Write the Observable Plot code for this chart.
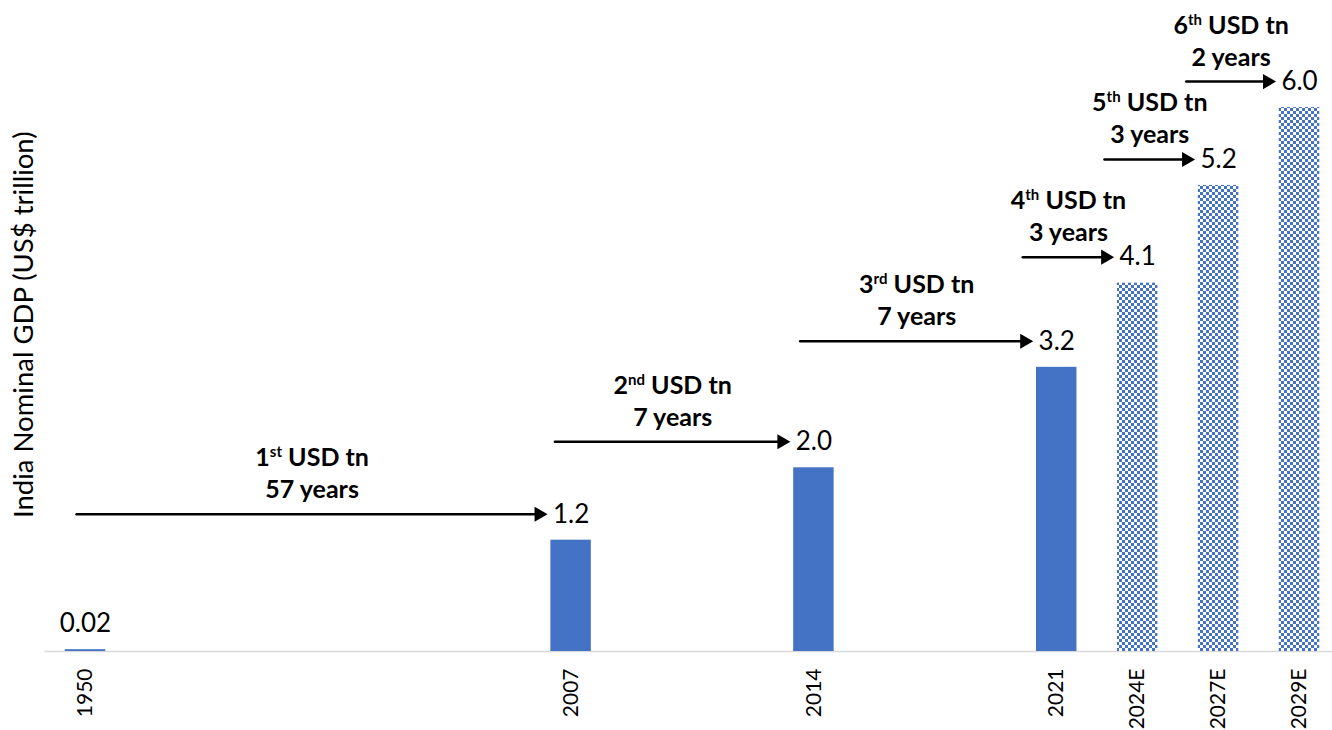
<!DOCTYPE html>
<html>
<head>
<meta charset="utf-8">
<script src="https://cdn.jsdelivr.net/npm/d3@7"></script>
<script src="https://cdn.jsdelivr.net/npm/@observablehq/plot@0.6"></script>
<style>
  html, body { margin: 0; padding: 0; background: #fff; }
  #chart svg { display: block; }
</style>
</head>
<body>
<div id="chart"></div>
<script>
// ---- data ----
const categories  = ["1950", "2007", "2014", "2021", "2024E", "2027E", "2029E"];
const axisSlots   = [0, 6, 9, 12, 13, 14, 15];          // category slot on the (uneven) axis
const gdp         = [0.02, 1.23, 2.03, 3.14, 4.07, 5.15, 6.01];
const valueLabels = ["0.02", "1.2", "2.0", "3.2", "4.1", "5.2", "6.0"];
const isEstimate  = [false, false, false, false, true, true, true];
const milestoneNumber = ["1", "2", "3", "4", "5", "6"];
const milestoneSuffix = ["st", "nd", "rd", "th", "th", "th"];
const yearsTaken      = ["57", "7", "7", "3", "3", "2"];
const yLabel = "India Nominal GDP (US$ trillion)";

// ---- derived tables ----
const bars = categories.map((c, i) => ({
  category: c, slot: axisSlots[i], gdp: gdp[i], label: valueLabels[i], estimate: isEstimate[i]
}));
const startShift = [-0.11, -0.2, -0.17, -0.42, -0.41, -0.40];
const tipShift = 0.29;
const steps = milestoneNumber.map((n, i) => {
  const from = bars[i], to = bars[i + 1];
  const x1 = from.slot + startShift[i];
  const x2 = to.slot - tipShift;
  return {
    x1, x2, xm: (x1 + x2) / 2, y: to.gdp,
    line1: `${n}${milestoneSuffix[i]} USD tn`,
    line2: `${yearsTaken[i]} years`
  };
});

const BLUE = "#4472C4";
const LABEL_DY = -26;

const svg = Plot.plot({
  width: 1332,
  height: 730,
  marginLeft: 44.5,
  marginRight: 0,
  marginTop: 17.5,
  marginBottom: 79,
  style: { fontFamily: "Lato, 'Open Sans', sans-serif", background: "#fff", overflow: "visible" },
  x: { domain: [-0.5, 15.5], range: [44.5, 1339.5], axis: null },
  y: { domain: [0, 7], axis: null },
  marks: [
    Plot.ruleY([0], { stroke: "#d9d9d9", strokeWidth: 1.5 }),
    Plot.rectY(bars.filter(d => !d.estimate), {
      x1: d => d.slot - 0.25, x2: d => d.slot + 0.25, y: "gdp", fill: BLUE
    }),
    Plot.rectY(bars.filter(d => d.estimate), {
      x1: d => d.slot - 0.25, x2: d => d.slot + 0.25, y: "gdp", fill: "url(#chk)"
    }),
    Plot.text(bars, { x: "slot", y: "gdp", text: "label", dy: LABEL_DY, fontSize: 26, fill: "#000" }),
    Plot.text(bars, {
      x: "slot", y: 0, text: "category", rotate: -90, textAnchor: "end",
      dy: 17, fontSize: 21, fill: "#000"
    }),
    Plot.arrow(steps, {
      x1: "x1", x2: "x2", y1: "y", y2: "y", dy: LABEL_DY,
      insetEnd: 10, headLength: 0, stroke: "#000", strokeWidth: 2.5
    }),
    Plot.dot(steps, {
      x: "x2", y: "y", dy: LABEL_DY, dx: -8.7, symbol: "triangle", rotate: 90,
      r: 5.6, fill: "#000", stroke: "none"
    }),
    Plot.text(steps, {
      x: "xm", y: "y", dy: LABEL_DY - 56, text: "line1", fontWeight: "bold", fontSize: 25, fill: "#000"
    }),
    Plot.text(steps, {
      x: "xm", y: "y", dy: LABEL_DY - 24, text: "line2", fontWeight: "bold", fontSize: 25, fill: "#000"
    }),
    Plot.text([yLabel], {
      text: d => d, frameAnchor: "left", textAnchor: "middle", rotate: -90,
      dx: -21, dy: -10, fontSize: 27.5, fill: "#000"
    })
  ]
});

// pattern for estimated bars
const NS = "http://www.w3.org/2000/svg";
const defs = document.createElementNS(NS, "defs");
const pat = document.createElementNS(NS, "pattern");
pat.setAttribute("id", "chk");
pat.setAttribute("patternUnits", "userSpaceOnUse");
pat.setAttribute("width", "6");
pat.setAttribute("height", "6");
[[0, 0, 6, 6, "#fff"], [0, 0, 3, 3, BLUE], [3, 3, 3, 3, BLUE]].forEach(([x, y, w, h, f]) => {
  const r = document.createElementNS(NS, "rect");
  r.setAttribute("x", x); r.setAttribute("y", y);
  r.setAttribute("width", w); r.setAttribute("height", h);
  r.setAttribute("fill", f);
  pat.appendChild(r);
});
defs.appendChild(pat);
svg.insertBefore(defs, svg.firstChild);

// superscript ordinal suffixes
svg.querySelectorAll("text").forEach(t => {
  const m = t.textContent.match(/^(\d)(st|nd|rd|th) USD tn$/);
  if (!m) return;
  t.textContent = "";
  const a = document.createElementNS(NS, "tspan"); a.textContent = m[1];
  const s = document.createElementNS(NS, "tspan"); s.textContent = m[2];
  s.setAttribute("font-size", "15"); s.setAttribute("dy", "-9");
  const b = document.createElementNS(NS, "tspan"); b.textContent = " USD tn";
  b.setAttribute("dy", "9");
  t.append(a, s, b);
});

document.getElementById("chart").appendChild(svg);
</script>
</body>
</html>
